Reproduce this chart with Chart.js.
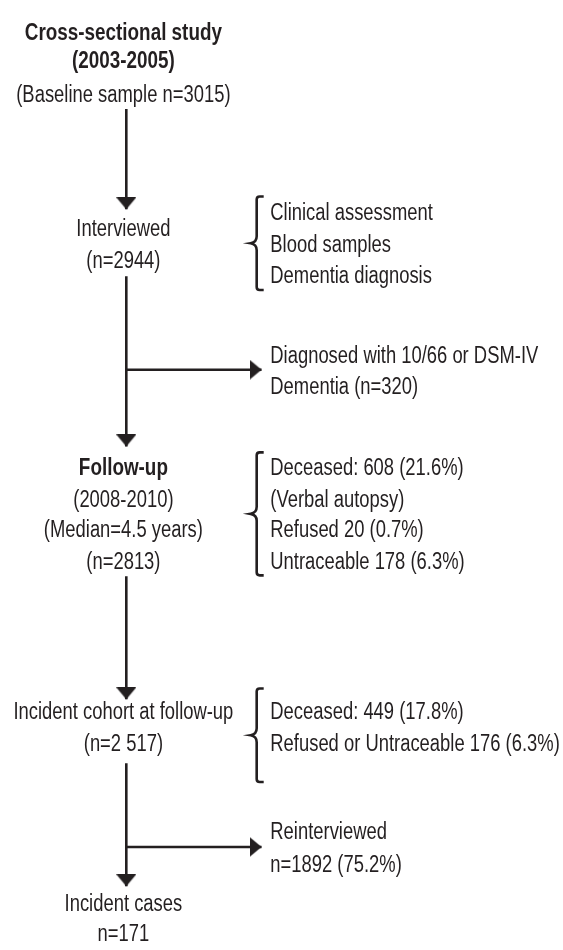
<!DOCTYPE html>
<html>
<head>
<meta charset="utf-8">
<script src="https://cdn.jsdelivr.net/npm/chart.js@4.4.1/dist/chart.umd.min.js"></script>
<style>
  html, body { margin: 0; padding: 0; background: #fff; }
  #wrap { width: 563px; height: 950px; }
</style>
</head>
<body>
<div id="wrap"><canvas id="flow" width="563" height="950"></canvas></div>
<script>
// study numbers
const stageCounts = [3015, 2944, 2813, 2517, 171];
const dementiaCount = 320;
const followUpLoss = [608, 20, 178];
const followUpLossPct = [21.6, 0.7, 6.3];
const cohortLoss = [449, 176];
const cohortLossPct = [17.8, 6.3];
const reinterviewed = [1892, 75.2];

// text blocks (lines), left column and right column
const leftBlocks = [
  { y: [25, 53], bold: true, lines: ["Cross-sectional study", "(2003-2005)"] },
  { y: [88], lines: [`(Baseline sample n=${stageCounts[0]})`] },
  { y: [224, 257], lines: ["Interviewed", `(n=${stageCounts[1]})`] },
  { y: [467], bold: true, lines: ["Follow-up"] },
  { y: [499, 530, 562], lines: ["(2008-2010)", "(Median=4.5 years)", `(n=${stageCounts[2]})`] },
  { y: [715, 747], lines: ["Incident cohort at follow-up", "(n=2 517)"] },
  { y: [910, 940], lines: ["Incident cases", `n=${stageCounts[4]}`] },
];
const rightBlocks = [
  { y: [208, 240, 272], lines: ["Clinical assessment", "Blood samples", "Dementia diagnosis"] },
  { y: [353, 385], lines: ["Diagnosed with 10/66 or DSM-IV", `Dementia (n=${dementiaCount})`] },
  { y: [467, 499, 530, 562], lines: [
    `Deceased: ${followUpLoss[0]} (${followUpLossPct[0]}%)`,
    "(Verbal autopsy)",
    `Refused ${followUpLoss[1]} (${followUpLossPct[1]}%)`,
    `Untraceable ${followUpLoss[2]} (${followUpLossPct[2]}%)`] },
  { y: [715, 747], lines: [
    `Deceased: ${cohortLoss[0]} (${cohortLossPct[0]}%)`,
    `Refused or Untraceable ${cohortLoss[1]} (${cohortLossPct[1]}%)`] },
  { y: [837, 870], lines: ["Reinterviewed", `n=${reinterviewed[0]} (${reinterviewed[1]}%)`] },
];
// braces: [top, bottom]
const braces = [[192, 287], [452, 577], [692, 787]];

// layout (chart units == pixels)
const mainX = 122;
const textX = 119;
const rightX = 270;
const braceX = 256;
const arrowTipX = 263;
const downArrows = [[103, 207], [273, 448], [578, 705], [768, 895]];
const sideArrows = [368, 853];

const ink = "#231f20";

// arrowhead image, its centre is the tip
function makeHead() {
  const c = document.createElement("canvas");
  c.width = 20; c.height = 24;
  const g = c.getContext("2d");
  g.fillStyle = ink;
  g.beginPath();
  g.moveTo(0, 0); g.lineTo(20, 0); g.lineTo(10, 12); g.closePath();
  g.fill();
  return c;
}
const head = makeHead();

function arrowSet(p0, p1, rot) {
  return {
    type: "line",
    data: [p0, p1],
    borderColor: ink,
    borderWidth: 2.6,
    pointRadius: (ctx) => (ctx.dataIndex === 1 ? 5 : 0),
    pointStyle: head,
    rotation: rot,
    fill: false,
    tension: 0,
  };
}

const datasets = [];
downArrows.forEach(([a, b]) => datasets.push(arrowSet({ x: mainX, y: a }, { x: mainX, y: b - 2 }, 0)));
sideArrows.forEach((y) => datasets.push(arrowSet({ x: mainX, y: y }, { x: arrowTipX - 2, y: y }, -90)));

function drawText(ctx, txt, x, y, bold, align) {
  ctx.save();
  ctx.font = (bold ? "bold " : "") + "23px 'Liberation Sans', Arial, sans-serif";
  const sx = bold ? 0.82 : 0.8;
  ctx.translate(x, y + 8);
  ctx.scale(sx, 1);
  ctx.textAlign = align;
  ctx.textBaseline = "alphabetic";
  ctx.fillStyle = ink;
  ctx.fillText(txt, 0, 0);
  ctx.restore();
}

const flowPlugin = {
  id: "flowText",
  afterDatasetsDraw(chart) {
    const { ctx, scales } = chart;
    const X = (v) => scales.x.getPixelForValue(v);
    const Y = (v) => scales.y.getPixelForValue(v);
    leftBlocks.forEach((b) => b.lines.forEach((t, i) => drawText(ctx, t, X(textX), Y(b.y[i]), b.bold, "center")));
    rightBlocks.forEach((b) => b.lines.forEach((t, i) => drawText(ctx, t, X(rightX), Y(b.y[i]), b.bold, "left")));
    // curly braces
    ctx.save();
    ctx.strokeStyle = ink;
    ctx.lineWidth = 2.6;
    braces.forEach(([t, bt]) => {
      const x = X(braceX), top = Y(t), bot = Y(bt), mid = (top + bot) / 2;
      ctx.beginPath();
      ctx.moveTo(x + 7, top);
      ctx.lineTo(x + 3, top);
      ctx.quadraticCurveTo(x, top, x, top + 3);
      ctx.lineTo(x, mid - 7);
      ctx.quadraticCurveTo(x, mid - 1, x - 6, mid);
      ctx.quadraticCurveTo(x, mid + 1, x, mid + 7);
      ctx.lineTo(x, bot - 3);
      ctx.quadraticCurveTo(x, bot, x + 3, bot);
      ctx.lineTo(x + 7, bot);
      ctx.stroke();
    });
    ctx.restore();
  },
};

new Chart(document.getElementById("flow"), {
  type: "scatter",
  data: { datasets },
  options: {
    responsive: false,
    animation: false,
    events: [],
    devicePixelRatio: 1,
    layout: { padding: 0 },
    plugins: { legend: { display: false }, tooltip: { enabled: false } },
    scales: {
      x: { type: "linear", min: 0, max: 563, display: false },
      y: { type: "linear", min: 0, max: 950, reverse: true, display: false },
    },
  },
  plugins: [flowPlugin],
});
</script>
</body>
</html>
